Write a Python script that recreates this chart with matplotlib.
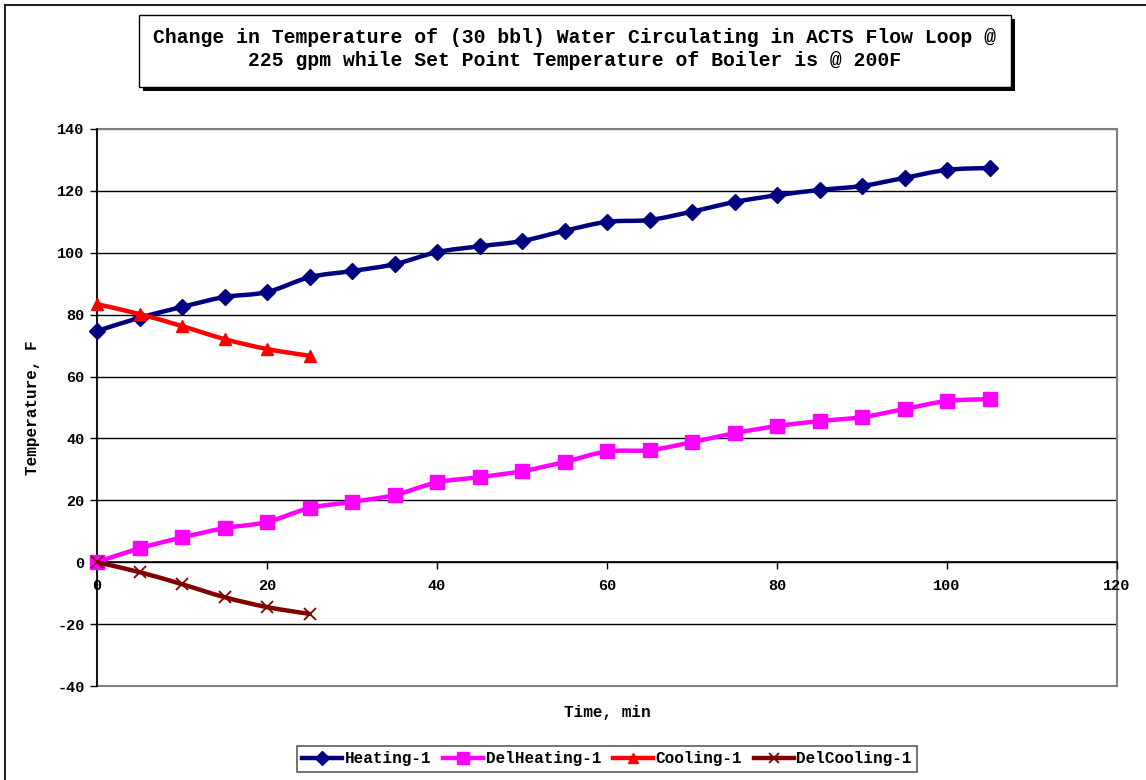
import numpy as np
import matplotlib
matplotlib.use("Agg")
import matplotlib.pyplot as plt
from matplotlib.path import Path
from matplotlib.patches import PathPatch, Rectangle
from matplotlib.lines import Line2D

# ---- data ----
time_heat = [0, 5, 10, 15, 20, 25, 30, 35, 40, 45, 50, 55, 60, 65, 70, 75, 80, 85, 90, 95, 100, 105]
heating_1 = [74.7, 79.0, 82.5, 85.7, 87.3, 92.1, 94.1, 96.3, 100.2, 102.1, 103.8, 107.1,
             110.0, 110.6, 113.3, 116.4, 118.6, 120.3, 121.6, 124.2, 126.8, 127.4]
del_heating_1 = [0.0, 4.5, 8.0, 11.0, 13.0, 17.5, 19.5, 21.7, 25.8, 27.5, 29.4, 32.4,
                 35.8, 36.2, 38.8, 41.7, 44.0, 45.6, 46.9, 49.5, 52.1, 52.7]
time_cool = [0, 5, 10, 15, 20, 25]
cooling_1 = [83.4, 80.2, 76.3, 72.1, 68.9, 66.7]
del_cooling_1 = [0.0, -3.2, -7.1, -11.3, -14.5, -16.7]

series_names = ["Heating-1", "DelHeating-1", "Cooling-1", "DelCooling-1"]
title_text = ("Change in Temperature of (30 bbl) Water Circulating in ACTS Flow Loop @\n"
              "225 gpm while Set Point Temperature of Boiler is @ 200F")
x_ticks = [0, 20, 40, 60, 80, 100, 120]
y_ticks = [-40, -20, 0, 20, 40, 60, 80, 100, 120, 140]

FONT = "Liberation Mono"
W, H = 1146, 780


def smooth_path(x, y):
    """Bezier path through the points (Catmull-Rom style smoothing)."""
    pts = np.column_stack([x, y]).astype(float)
    n = len(pts)
    verts = [pts[0]]
    codes = [Path.MOVETO]
    for i in range(n - 1):
        p0 = pts[i - 1] if i > 0 else pts[i]
        p1 = pts[i]
        p2 = pts[i + 1]
        p3 = pts[i + 2] if i + 2 < n else pts[i + 1]
        verts += [p1 + (p2 - p0) / 6.0, p2 - (p3 - p1) / 6.0, p2]
        codes += [Path.CURVE4] * 3
    return Path(verts, codes)


fig = plt.figure(figsize=(W / 100, H / 100), dpi=100)
fig.patch.set_facecolor("white")

ax = fig.add_axes([97 / W, 1 - 686 / H, 1020 / W, 557 / H])
ax.set_xlim(0, 120)
ax.set_ylim(-40, 140)

# horizontal gridlines
for yv in y_ticks:
    col = "#808080" if yv in (-40, 140) else "black"
    ax.axhline(yv, color=col, lw=1.0, zorder=1)

# plot-area frame
ax.add_patch(Rectangle((0, 0), 1, 1, transform=ax.transAxes, fill=False,
                       edgecolor="#808080", lw=1.5, zorder=1.5, clip_on=False))

for s in ("top", "right"):
    ax.spines[s].set_visible(False)
ax.spines["left"].set_color("black")
ax.spines["left"].set_linewidth(1.2)
ax.spines["bottom"].set_position(("data", 0))
ax.spines["bottom"].set_color("black")
ax.spines["bottom"].set_linewidth(1.2)
for sp in ax.spines.values():
    sp.set_zorder(2)

ax.set_xticks(x_ticks)
ax.set_yticks(y_ticks)
ax.set_xticklabels([str(v) for v in x_ticks])
ax.set_yticklabels([str(v) for v in y_ticks])
ax.tick_params(axis="x", direction="out", length=5, width=1, pad=7, colors="black")
ax.tick_params(axis="y", direction="out", length=5, width=1, pad=4, colors="black")
for lab in ax.get_xticklabels() + ax.get_yticklabels():
    lab.set_fontfamily(FONT)
    lab.set_fontweight("bold")
    lab.set_fontsize(11)

# series
styles = [
    dict(color="#000080", marker="D", ms=8, mew=1),
    dict(color="#FF00FF", marker="s", ms=10, mew=1),
    dict(color="#FF0000", marker="^", ms=8, mew=1),
    dict(color="#800000", marker="x", ms=8, mew=1.3),
]
data = [(time_heat, heating_1), (time_heat, del_heating_1),
        (time_cool, cooling_1), (time_cool, del_cooling_1)]

handles = []
for k, ((xs, ys), st, name) in enumerate(zip(data, styles, series_names)):
    z = 3 + k
    ax.add_patch(PathPatch(smooth_path(xs, ys), fill=False, edgecolor=st["color"],
                           lw=3.2, capstyle="round", joinstyle="round", zorder=z))
    ax.plot(xs, ys, ls="none", marker=st["marker"], ms=st["ms"],
            color=st["color"], mec=st["color"], mew=st["mew"], zorder=z + 0.5,
            clip_on=False)
    handles.append(Line2D([], [], color=st["color"], lw=3.2, marker=st["marker"],
                          ms=st["ms"] * 0.9, mec=st["color"], mew=st["mew"]))

ax.set_xlabel("Time, min", fontfamily=FONT, fontweight="bold", fontsize=11.5)
ax.xaxis.set_label_coords(0.5, 1 - (713 - 129) / 557)
ax.set_ylabel("Temperature, F", fontfamily=FONT, fontweight="bold", fontsize=11.5)
ax.yaxis.set_label_coords((33 - 97) / 1020, 0.5)
ax.xaxis.label.set_va("center")
ax.yaxis.label.set_va("center")

# title box with drop shadow
bx0, bx1, by0, by1 = 139, 1011, 15, 87
bw, bh = (bx1 - bx0) / W, (by1 - by0) / H
fig.patches.append(Rectangle(((bx0 + 4) / W, 1 - (by1 + 4) / H), bw, bh,
                             transform=fig.transFigure, facecolor="black",
                             edgecolor="black", lw=0, zorder=1))
fig.patches.append(Rectangle((bx0 / W, 1 - by1 / H), bw, bh,
                             transform=fig.transFigure, facecolor="white",
                             edgecolor="black", lw=1, zorder=2))
fig.text((bx0 + bx1) / 2 / W, 1 - 49 / H, title_text, ha="center", va="center",
         fontfamily=FONT, fontweight="bold", fontsize=14.2, linespacing=1.25, zorder=3)

# outer chart frame (left and top edges)
fig.add_artist(Line2D([5 / W, 5 / W], [0, 1 - 5 / H], transform=fig.transFigure,
                      color="#222222", lw=1.5))
fig.add_artist(Line2D([5 / W, 1], [1 - 5 / H, 1 - 5 / H], transform=fig.transFigure,
                      color="#222222", lw=1.5))

leg = fig.legend(handles, series_names, loc="center", bbox_to_anchor=(607 / W, 1 - 759 / H),
                 ncol=4, frameon=True, fancybox=False, handlelength=2.5,
                 handletextpad=0.15, columnspacing=0.75, borderpad=0.35,
                 prop=dict(family=FONT, weight="bold", size=11.5))
leg.get_frame().set_edgecolor("#333333")
leg.get_frame().set_linewidth(1.2)

fig.savefig("out.png", dpi=100, facecolor="white")
